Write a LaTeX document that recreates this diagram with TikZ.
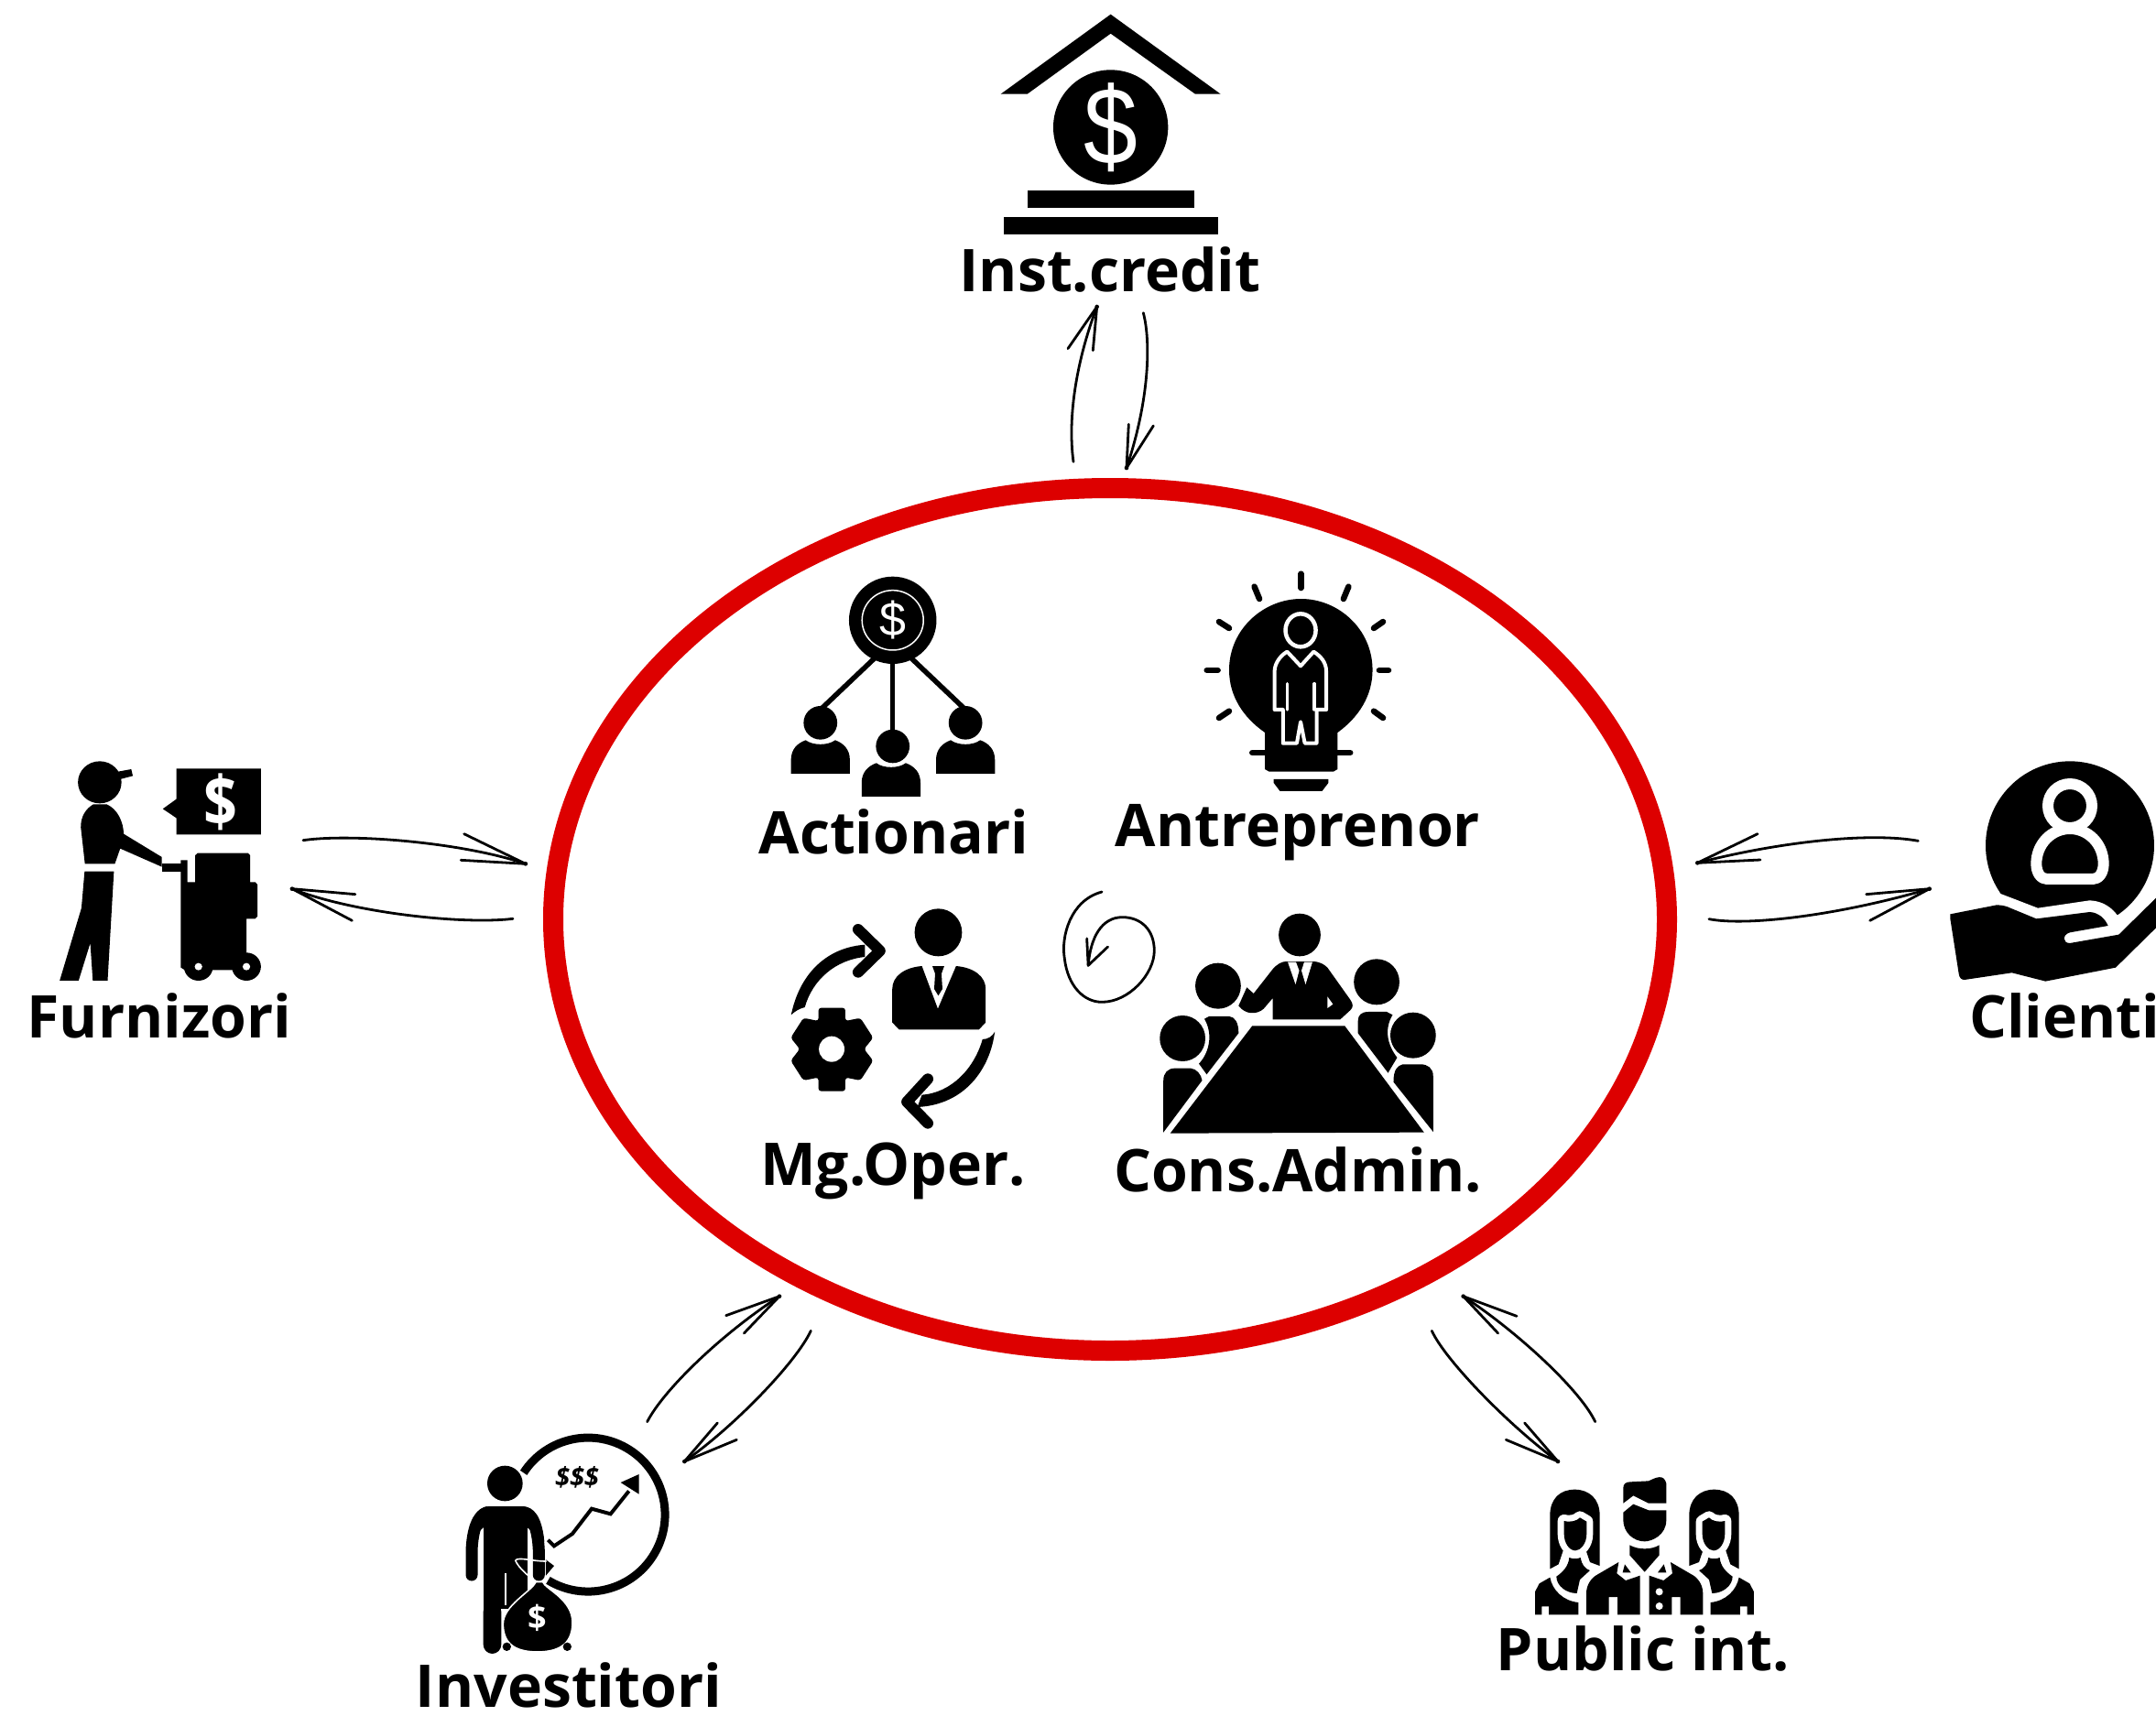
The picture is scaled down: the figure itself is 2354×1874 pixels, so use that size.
\documentclass[tikz,border=0pt]{standalone}
\usepackage{fontspec}
\setmainfont{Open Sans}
\newfontfamily\dollarfont{Liberation Sans}
\definecolor{ringred}{HTML}{DD0000}
\tikzset{
  lbl/.style={anchor=base,inner sep=0pt,font=\fontsize{64.3}{70}\selectfont\bfseries,text=black},
  wsign/.style={inner sep=0pt,text=white},
  sketch/.style={draw=black,line width=2.8pt,line cap=round,line join=round},
  zA/.style={shift={(820,610)},x=.4591pt,y=-.3333pt},
  zB/.style={shift={(820,960)},x=.4975pt,y=-.3333pt},
  zC/.style={shift={(40,810)},x=.3444pt,y=-.3333pt},
  zD/.style={shift={(2100,810)},x=.3333pt,y=-.3333pt},
  zE/.style={shift={(490,1550)},x=.3333pt,y=-.3333pt},
  zF/.style={shift={(1660,1600)},x=.3333pt,y=-.3333pt},
  zG/.style={shift={(690,1400)},x=.3333pt,y=-.3333pt},
  zH/.style={shift={(1550,1400)},x=.3333pt,y=-.3333pt},
  zI/.style={shift={(1140,320)},x=.3333pt,y=-.3333pt},
  zJ/.style={shift={(1840,890)},x=.3333pt,y=-.3333pt},
  zK/.style={shift={(1050,0)},x=.3333pt,y=-.3333pt},
}
% hand-drawn arrow: name, start, control 1, control 2, tip, barb 1, barb 2
\newcommand{\sk}[7]{%
  \coordinate (#1s) at #2; \coordinate (#1t) at #5;
  \coordinate (#1a) at #6; \coordinate (#1b) at #7;
  \draw[sketch] (#1s) .. controls #3 and #4 .. (#1t);
  \draw[sketch] (#1a) -- (#1t) -- (#1b);
  \fill (#1t) circle [radius=7];
}
\newcommand{\shbody}{%
  \fill (-70,0) -- (-70,-45) .. controls (-70,-80) and (-55,-100) .. (-35,-110)
    .. controls (-18,-92) and (18,-92) .. (35,-110)
    .. controls (55,-100) and (70,-80) .. (70,-45) -- (70,0) -- cycle;
}
\begin{document}
\begin{tikzpicture}[x=1pt,y=-1pt]
\useasboundingbox (0,0) rectangle (2354,1874);
\fill[white] (0,0) rectangle (2354,1874);

% central ring
\draw[ringred,line width=22pt] (1212,1004) ellipse [x radius=608,y radius=471];

% ---- labels
\node[lbl] (credit) at (1212,318) {Inst.credit};
\node[lbl] (actionari) at (976,932) {Actionari};
\node[lbl] (antrep) at (1417,924) {Antreprenor};
\node[lbl] (mgoper) at (975,1294) {Mg.Oper.};
\node[lbl] (consadm) at (1417,1301) {Cons.Admin.};
\node[lbl] (furniz) at (174,1133) {Furnizori};
\node[lbl,anchor=base west] (clienti) at (2150,1133) {Clienti};
\node[lbl] (invest) at (621,1864) {Investitori};
\node[lbl] (publicint) at (1794,1824) {Public int.};

% ---- Inst.credit icon
\begin{scope}[zK]
\fill (488,47) -- (848,308) -- (765,308) -- (488,110) -- (215,308) -- (128,308) -- cycle;
\fill (488,417) ellipse [x radius=188,y radius=188];
\node[wsign,xscale=.88,font=\dollarfont\fontsize{120}{120}\selectfont] (creditsign) at (488,417) {\$};
\fill (216,624) rectangle (762,681);
\fill (138,711) rectangle (840,768);
\end{scope}

% ---- Actionari icon
\begin{scope}[zA]
\fill (337,202) ellipse [x radius=104,y radius=143];
\draw[white,line width=1.5pt] (337,202) ellipse [x radius=73,y radius=98];
\node[wsign,font=\dollarfont\fontsize{52}{52}\selectfont] (actsign) at (337,202) {\$};
\draw[line width=5.5pt] (295,325) -- (165,495);
\draw[line width=5.5pt] (380,325) -- (510,495);
\draw[line width=5.5pt] (337,330) -- (337,570);
\fill (165,538) ellipse [x radius=40,y radius=55];
\fill (510,538) ellipse [x radius=40,y radius=55];
\fill (337,615) ellipse [x radius=40,y radius=55];
\begin{scope}[shift={(165,705)}]\shbody\end{scope}
\begin{scope}[shift={(510,705)}]\shbody\end{scope}
\begin{scope}[shift={(333,780)}]\shbody\end{scope}

% ---- Antreprenor icon
\fill (1222,570) .. controls (1170,520) and (1137,450) .. (1137,365)
  .. controls (1137,230) and (1220,132) .. (1308,132)
  .. controls (1396,132) and (1478,230) .. (1478,365)
  .. controls (1478,450) and (1445,520) .. (1395,570)
  -- (1395,690) -- (1385,698) -- (1232,698) -- (1222,690) -- cycle;
\draw[line width=6.5pt,line cap=round] (1192,636) -- (1425,636);
\fill (1243,723) -- (1373,723) -- (1373,735) -- (1358,762) -- (1258,762) -- (1243,735) -- cycle;
\foreach \xa/\ya/\xb/\yb in {1308/50/1308/96,1197/92/1209/132,1421/92/1409/132,1113/207/1137/228,1503/207/1481/228,1084/366/1110/366,1494/366/1516/366,1113/522/1137/500,1503/522/1481/500}
  \draw[line width=6.5pt,line cap=round] (\xa,\ya) -- (\xb,\yb);
\draw[white,line width=4.5pt] (1307,235) ellipse [x radius=36,y radius=54];
\draw[white,line width=4pt,line join=round]
  (1245,495) -- (1245,370) .. controls (1245,340) and (1262,315) .. (1275,305)
  -- (1307,352) -- (1338,305) .. controls (1355,320) and (1368,340) .. (1368,370)
  -- (1368,495) -- (1345,495) -- (1345,605) -- (1317,605) -- (1307,535) -- (1298,605)
  -- (1265,605) -- (1265,495) -- cycle;
\draw[white,line width=3.5pt,line cap=round] (1275,410) -- (1275,495);
\draw[white,line width=3.5pt,line cap=round] (1340,410) -- (1340,495);
\end{scope}

% ---- Mg.Oper. icon
\begin{scope}[zB]
\fill (411,175) ellipse [x radius=52,y radius=78];
\fill (375,285) -- (410,425) -- (450,285) .. controls (490,290) and (515,320) .. (515,360)
  -- (515,470) -- (500,493) -- (325,493) -- (310,470) -- (310,360)
  .. controls (310,320) and (335,290) .. (375,285) -- cycle;
\fill (398,285) -- (424,285) -- (418,310) -- (420,360) -- (411,382) -- (402,360) -- (404,310) -- cycle;
\fill[rounded corners=3pt] (148,422) -- (207,422) -- (207,465) -- (240,455) -- (268,520)
  -- (248,557) -- (268,595) -- (240,660) -- (207,650) -- (207,695) -- (148,695) -- (148,650)
  -- (115,660) -- (87,595) -- (107,557) -- (87,520) -- (115,455) -- (148,465) -- cycle;
\fill[white] (177,557) ellipse [x radius=28,y radius=42];
\fill (88,445) .. controls (105,320) and (160,225) .. (250,215) -- (250,255)
  .. controls (185,265) and (135,330) .. (118,420) .. controls (105,425) and (95,435) .. cycle;
\draw[line width=12pt,line cap=round,line join=round] (235,165) -- (283,235) -- (235,305);
\fill (535,500) .. controls (525,620) and (470,740) .. (365,747) -- (375,707)
  .. controls (440,700) and (490,620) .. (508,525) .. controls (520,525) and (530,515) .. cycle;
\draw[line width=12pt,line cap=round,line join=round] (388,655) -- (342,730) -- (388,800);

% ---- self loop
\coordinate (loops) at (770,42); \coordinate (loopt) at (740,283);
\coordinate (loopa) at (737,195); \coordinate (loopb) at (783,222);
\draw[sketch] (loops) .. controls (700,70) and (680,190) .. (688,260)
  .. controls (695,350) and (730,403) .. (770,403)
  .. controls (830,403) and (885,310) .. (885,235)
  .. controls (885,165) and (855,125) .. (815,125)
  .. controls (770,125) and (745,190) .. (loopt);
\draw[sketch] (loopa) -- (loopt) -- (loopb);

% ---- Cons.Admin. icon
\fill (1204,183) ellipse [x radius=46,y radius=70];
\fill (1145,460) -- (1145,390) -- (1125,425) .. controls (1110,445) and (1085,445) .. (1070,415)
  -- (1088,355) -- (1103,375) -- (1145,295) .. controls (1155,278) and (1165,270) .. (1175,270)
  -- (1235,270) .. controls (1250,272) and (1258,280) .. (1265,290) -- (1315,395)
  .. controls (1322,410) and (1322,420) .. (1315,430) -- (1293,460) -- cycle;
\fill[white] (1178,272) -- (1195,345) -- (1203,300) -- (1196,272) -- cycle;
\fill[white] (1232,272) -- (1217,345) -- (1208,300) -- (1214,272) -- cycle;
\fill[white] (1265,385) -- (1277,410) -- (1265,423) -- cycle;
\fill (1100,481) -- (1303,481) -- (1477,830) -- (920,833) -- cycle;
\fill (1025,350) ellipse [x radius=50,y radius=75];
\fill (947,522) ellipse [x radius=50,y radius=75];
\fill (1373,337) ellipse [x radius=50,y radius=75];
\fill (1453,512) ellipse [x radius=50,y radius=75];
\fill (995,458) -- (1005,450) -- (1050,450) .. controls (1062,452) and (1070,470) .. (1070,505)
  -- (1000,640) -- (983,605) .. controls (1005,570) and (1015,510) .. (995,458) -- cycle;
\fill (905,830) -- (905,660) .. controls (905,635) and (915,620) .. (930,620) -- (965,620)
  .. controls (978,622) and (988,640) .. (990,660) -- cycle;
\fill (1332,505) -- (1332,465) .. controls (1332,445) and (1340,435) .. (1355,435) -- (1395,435)
  -- (1408,445) .. controls (1390,490) and (1395,540) .. (1418,585) -- (1398,635) -- cycle;
\fill (1497,828) -- (1497,645) .. controls (1497,620) and (1485,607) .. (1470,607) -- (1430,607)
  .. controls (1418,612) and (1410,625) .. (1410,665) -- cycle;
\end{scope}

% ---- Furnizori icon
\begin{scope}[zC]
\fill (200,133) ellipse [x radius=69,y radius=69];
\fill (258,98) -- (300,90) -- (305,112) -- (268,122) -- cycle;
\fill (180,205) -- (222,205) .. controls (255,220) and (275,260) .. (276,302) -- (397,378)
  -- (397,410) -- (265,350) -- (248,400) -- (153,400) -- (140,280)
  .. controls (140,245) and (155,220) .. (180,205) -- cycle;
\fill (152,425) -- (245,425) -- (225,783) -- (178,783) -- (170,660) -- (133,783) -- (73,783) -- (142,545) -- cycle;
\fill (397,400) rectangle (460,425);
\fill (457,388) -- (478,388) -- (478,460) -- (503,460) -- (503,372) -- (510,365) -- (670,365)
  -- (677,372) -- (677,460) -- (693,460) -- (700,468) -- (700,572) -- (693,580) -- (665,580)
  -- (665,690) -- (665,748) -- (470,748) -- (457,740) -- cycle;
\fill (513,737) ellipse [x radius=46,y radius=46];
\fill (665,737) ellipse [x radius=46,y radius=46];
\fill[white] (513,737) ellipse [x radius=12,y radius=12];
\fill[white] (665,737) ellipse [x radius=12,y radius=12];
\fill (443,88) -- (711,88) -- (711,304) -- (443,304) -- (443,250) -- (400,220) -- (443,188) -- cycle;
\node[wsign,xscale=.85,font=\fontsize{76}{76}\selectfont\bfseries] (furnsign) at (583,197) {\$};
\end{scope}

% ---- Clienti icon
\begin{scope}[zD]
\fill (480,340) circle [radius=276];
\fill[white] (250,497) -- (375,545) -- (545,520) .. controls (590,522) and (620,545) .. (640,575)
  -- (762,460) -- (762,800) -- (70,800) -- (70,500) -- cycle;
\fill (88,565) -- (240,535) .. controls (260,535) and (275,540) .. (285,545) -- (370,580)
  -- (545,558) .. controls (575,560) and (595,580) .. (605,603) -- (480,625)
  .. controls (455,632) and (455,660) .. (480,660) -- (640,632) -- (762,512) -- (762,610)
  -- (630,740) -- (400,785) -- (290,757) -- (135,780) .. controls (125,780) and (118,775) .. (116,760)
  -- (88,580) -- cycle;
\draw[white,line width=12pt] (480,210) circle [radius=72];
\draw[white,line width=12pt,line join=round] (370,400) .. controls (370,335) and (420,285) .. (480,285)
  .. controls (540,285) and (590,335) .. (590,400) .. controls (590,430) and (575,450) .. (555,450)
  -- (405,450) .. controls (385,450) and (370,430) .. (370,400) -- cycle;
\end{scope}

% ---- Investitori icon
\begin{scope}[zE]
\draw[line width=9pt] (245,175) arc [start angle=-147,end angle=121.3,radius=252];
\fill (184,210) circle [radius=58];
\fill (113,345) rectangle (258,620);
\fill (62,400) .. controls (70,320) and (95,285) .. (135,285) -- (240,285)
  .. controls (280,285) and (305,320) .. (313,400) -- (258,355) -- (113,355) -- cycle;
\draw[line width=13pt,line cap=round] (75,510) -- (75,430) .. controls (78,360) and (95,315) .. (125,305);
\draw[line width=13pt,line cap=round] (295,510) -- (295,430) .. controls (292,360) and (275,315) .. (245,305);
\fill[rounded corners=10pt] (113,600) rectangle (172,768);
\draw[white,line width=2.2pt] (186,505) -- (186,610);
\draw[line width=4pt] (325,395) -- (345,415) -- (405,375) -- (468,293) -- (530,310) -- (590,235);
\fill (563,207) -- (623,180) -- (623,245) -- cycle;
\fill (318,460) -- (345,480) -- (318,512) -- cycle;
\draw[white,line width=1.6pt] (218,462) .. controls (230,450) and (270,465) .. (320,465);
\draw[white,line width=1.6pt] (218,462) .. controls (230,490) and (265,515) .. (275,525);
\filldraw[draw=white,fill=black,line width=1.6pt] (285,533) -- (308,533)
  .. controls (315,555) and (405,590) .. (405,665)
  .. controls (405,725) and (375,762) .. (290,762)
  .. controls (205,762) and (178,725) .. (178,670)
  .. controls (178,610) and (270,565) .. (285,533) -- cycle;
\fill (190,745) circle [radius=14];
\fill (388,745) circle [radius=14];
\node[wsign,font=\fontsize{36}{36}\selectfont\bfseries] (bagsign) at (290,650) {\$};
\node[inner sep=0pt,font=\fontsize{29}{29}\selectfont\bfseries\itshape] (dollars) at (420,190) {\$\$\$};
\end{scope}

% ---- Public int. icon
\begin{scope}[zF]
\foreach \mirr in {1,-1}{
\begin{scope}[shift={({406.5-406.5*\mirr},0)},x={(\mirr*.3333pt,0)}]
 \fill (97,340) -- (97,165) .. controls (97,110) and (130,80) .. (178,80)
   .. controls (225,80) and (260,110) .. (260,165) -- (260,330) -- (228,318) -- (215,280) -- (140,280) -- (125,325) -- cycle;
 \draw[white,line width=14pt,line join=round] (143,183) .. controls (165,188) and (185,183) .. (195,172)
   -- (217,185) -- (217,225) .. controls (217,260) and (195,280) .. (180,280)
   .. controls (160,280) and (143,255) .. (143,225) -- cycle;
 \fill (143,183) .. controls (165,188) and (185,183) .. (195,172)
   -- (217,185) -- (217,225) .. controls (217,260) and (195,280) .. (180,280)
   .. controls (160,280) and (143,255) .. (143,225) -- cycle;
 \fill (160,303) .. controls (172,308) and (185,308) .. (197,303) .. controls (200,325) and (212,340) .. (228,345)
   -- (195,375) -- (185,420) .. controls (150,420) and (118,395) .. (118,365) .. controls (140,350) and (158,330) .. (160,303) -- cycle;
 \fill (48,490) -- (48,415) -- (62,388) -- (97,368) .. controls (105,410) and (140,445) .. (190,450)
   -- (190,490) -- (93,490) -- (93,463) -- (70,463) -- (70,490) -- cycle;
\end{scope}}
\fill (337,120) -- (337,75) .. controls (337,62) and (345,55) .. (360,55) -- (420,52)
  .. controls (445,40) and (470,28) .. (478,60) -- (478,125) -- (420,125) -- (370,100) -- (337,125) -- cycle;
\fill (337,155) -- (370,128) -- (420,148) -- (478,148) -- (478,180) .. controls (478,230) and (430,250) .. (407,250)
  .. controls (370,250) and (337,220) .. (337,180) -- cycle;
\fill (358,262) .. controls (385,278) and (430,278) .. (455,262) -- (455,295) -- (407,350) -- (358,295) -- cycle;
\fill (342,325) -- (362,352) -- (335,352) -- cycle;
\fill (470,325) -- (450,352) -- (478,352) -- cycle;
\fill (322,318) -- (316,355) -- (345,378) -- (392,362) -- (392,490) -- (318,490) -- (318,432) -- (290,432) -- (290,490)
  -- (216,490) -- (216,420) .. controls (216,390) and (235,368) .. (250,360) -- cycle;
\fill (492,318) -- (498,355) -- (469,378) -- (422,362) -- (422,490) -- (496,490) -- (496,432) -- (524,432) -- (524,490)
  -- (598,490) -- (598,420) .. controls (598,390) and (579,368) .. (564,360) -- cycle;
\fill[white] (455,415) circle [radius=12];
\fill[white] (455,462) circle [radius=12];
\end{scope}

% ---- connectors
\begin{scope}[zI]
\sk{ca}{(96,553)}{(75,400)}{(110,210)}{(173,45)}{(78,182)}{(160,188)}
\sk{cb}{(325,65)}{(350,160)}{(345,350)}{(270,573)}{(277,430)}{(358,435)}
\end{scope}
\begin{scope}[zC]
\sk{fa}{(845,323)}{(1000,300)}{(1350,330)}{(1550,400)}{(1355,302)}{(1345,388)}
\sk{fb}{(1510,580)}{(1350,600)}{(1000,560)}{(810,482)}{(1010,500)}{(1000,586)}
\end{scope}
\begin{scope}[zJ]
\sk{la}{(763,85)}{(600,55)}{(300,90)}{(40,157)}{(237,62)}{(246,147)}
\sk{lb}{(78,341)}{(200,365)}{(500,330)}{(800,242)}{(593,260)}{(605,346)}
\end{scope}
\begin{scope}[zG]
\sk{ia}{(50,458)}{(100,360)}{(280,180)}{(483,47)}{(308,110)}{(367,168)}
\sk{ib}{(586,160)}{(540,260)}{(340,470)}{(172,588)}{(280,462)}{(343,517)}
\end{scope}
\begin{scope}[zH]
\sk{pa}{(40,160)}{(80,250)}{(280,460)}{(453,588)}{(344,462)}{(283,517)}
\sk{pb}{(575,458)}{(530,360)}{(330,170)}{(143,47)}{(318,112)}{(257,168)}
\end{scope}
\end{tikzpicture}
\end{document}
